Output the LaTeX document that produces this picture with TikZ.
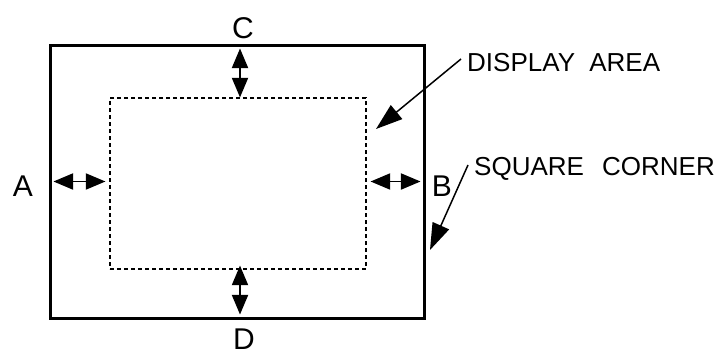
\documentclass[tikz,border=0pt]{standalone}
\usepackage{fontspec}
\setmainfont{Liberation Sans}
\usepackage{tikz}
\usetikzlibrary{arrows.meta, positioning, calc}
\usepackage{xcolor}
\tikzset{
    frame/.style={
        draw=black,
        line width=3pt,
        minimum width=374pt,
        minimum height=273pt,
        inner sep=0pt
    },
    dispbox/.style={
        draw=black,
        line width=1.2pt,
        dash pattern=on 4pt off 3pt,
        minimum width=256pt,
        minimum height=171pt,
        inner sep=0pt
    },
    letter/.style={
        font=\fontsize{30}{30}\selectfont,
        inner sep=0pt
    },
    callout/.style={
        font=\fontsize{26}{26}\selectfont,
        anchor=west,
        inner sep=4pt
    },
    dimarrow/.style={
        {Triangle[scale length=2.8, scale width=2.0]}-{Triangle[scale length=2.8, scale width=2.0]},
        line width=1.5pt,
        black
    },
    pointer/.style={
        -{Triangle[scale length=3.8, scale width=2.2]},
        line width=1.5pt,
        black
    }
}

\begin{document}
\begin{tikzpicture}[x=1pt, y=-1pt]
        \useasboundingbox (0,0) rectangle (721,356);

        % Frame and display area
        \node[frame] (outer) at (237,181.5) {};
        \node[dispbox] (disp) at (238,183.5) {};

        % Border letters
        \node[letter] (lC) at (243,28) {C};
        \node[letter] (lD) at (244,339) {D};
        \node[letter] (lA) at (23,186) {A};
        \node[letter] (lB) at (442,186) {B};

        % Border widths
        \draw[dimarrow, shorten <=5pt, shorten >=4pt] (outer.west) -- (outer.west -| disp.west);
        \draw[dimarrow, shorten <=4pt, shorten >=5pt] (outer.east -| disp.east) -- (outer.east);
        \draw[dimarrow, shorten <=5pt] ([xshift=2pt]outer.north -| disp.north) -- ([xshift=2pt]disp.north);
        \draw[dimarrow, shorten <=-4pt, shorten >=5pt] ([xshift=2pt]disp.south) -- ([xshift=2pt]outer.south -| disp.south);

        % Callouts
        \node[callout] (tDisp) at (463,63) {DISPLAY\hspace{0.55em}AREA};
        \node[callout] (tCorner) at (470,169) {SQUARE\hspace{0.7em}CORNER};
        \coordinate (dispTip) at (376,129);
        \coordinate (cornerTip) at (430,250);
        \draw[pointer] ([shift={(-2pt,4pt)}]tDisp.west) -- (dispTip);
        \draw[pointer] ([shift={(-2pt,4pt)}]tCorner.west) -- (cornerTip);
    \end{tikzpicture}
\end{document}
